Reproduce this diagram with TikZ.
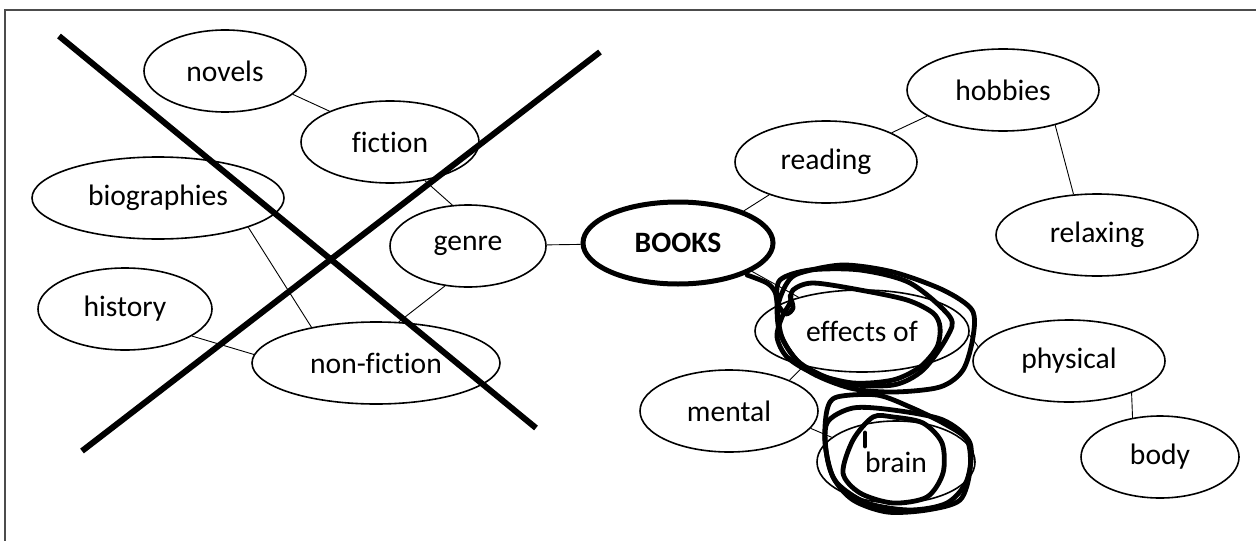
\documentclass[tikz,border=0pt]{standalone}
\usepackage{fontspec}
\setmainfont{Carlito}[Ligatures=CommonOff]
\usetikzlibrary{shapes.geometric}

\begin{document}
\begin{tikzpicture}[x=0.5pt,y=-0.5pt,
  bubble/.style={draw,ellipse,line width=0.8pt,inner sep=0pt,minimum height=41pt,
    font=\fontsize{14.8}{17}\selectfont},
  link/.style={line width=0.45pt},
  cross/.style={line width=3pt},
  scribble/.style={line width=2.4pt,line join=round,line cap=round}]
  \useasboundingbox (0,0) rectangle (1256,540);
  \draw[line width=1pt,black!70] (5,560) -- (5,10) -- (1270,10);

  \node[bubble,minimum width=81pt] (novels) at (225,71) {novels};
  \node[bubble,minimum width=89pt] (fiction) at (390,142) {fiction};
  \node[bubble,minimum width=126pt] (bio) at (158,198) {biographies};
  \node[bubble,minimum width=78pt] (genre) at (468,246) {genre};
  \node[bubble,minimum width=87pt] (history) at (125,309) {history};
  \node[bubble,minimum width=124pt] (nonfic) at (376,363) {non-fiction};
  \node[bubble,line width=2.5pt,minimum width=95pt,minimum height=41pt,
    font=\fontsize{14.8}{17}\selectfont\bfseries] (books) at (678,243) {BOOKS};

  \node[bubble,minimum width=91pt] (reading) at (826,162) {reading};
  \node[bubble,minimum width=96pt] (hobbies) at (1003,90) {hobbies};
  \node[bubble,minimum width=101pt] (relax) at (1097,235) {relaxing};
  \node[bubble,minimum width=107pt] (effects) at (862,331) {effects of};
  \node[bubble,minimum width=96pt] (phys) at (1069,361) {physical};
  \node[bubble,minimum width=89pt] (mental) at (729,411) {mental};
  \node[bubble,minimum width=79pt] (brain) at (896,462) {brain};
  \node[bubble,minimum width=79pt] (body) at (1160,457) {body};

  \draw[link] (novels.-19) -- (fiction.153);
  \draw[link] (fiction.-48) -- (genre.111);
  \draw[link] (bio.-18) -- (nonfic.151);
  \draw[link] (genre.-120) -- (nonfic.61);
  \draw[link] (history.-22) -- (nonfic.176);
  \draw[link] (genre) -- (books);
  \draw[link] (books.26) -- (reading.-150);
  \draw[link] (reading.24) -- (hobbies.-161);
  \draw[link] (hobbies.-34) -- (relax.120);
  \draw[link] (books.-21) -- (effects.152);
  \draw[link] (effects.-2) -- (phys.171);
  \draw[link] (effects.-149) -- (mental.27);
  \draw[link] (mental.-12) -- (brain.159);
  \draw[link] (phys.-27) -- (body.125);

  \draw[cross] (59,36) -- (536,428);
  \draw[cross] (82,451) -- (600,52);

  \draw[scribble] plot[smooth] coordinates {(747,275) (767,283) (775,292)
    (778,305) (786,314) (793,308) (790,296)};
  \draw[scribble] plot[smooth cycle] coordinates {(782,317) (777,337) (787,357)
    (813,373) (853,383) (893,380) (920,367) (937,347) (940,327) (933,313)
    (907,300) (860,290) (813,283) (793,290) (790,303)};
  \draw[scribble] plot[smooth cycle] coordinates {(780,280) (810,270) (860,270)
    (910,283) (950,317) (947,337) (923,370) (893,385) (843,383) (800,363)
    (780,333) (777,303)};
  \draw[scribble] plot[smooth cycle] coordinates {(800,273) (843,265) (893,272)
    (943,290) (972,310) (973,337) (963,370) (940,387) (893,392) (850,388)
    (807,370) (783,340) (778,307) (787,283)};

  \draw[scribble] plot[smooth cycle] coordinates {(837,397) (877,395) (910,407)
    (943,423) (967,440) (970,470) (960,500) (927,510) (887,512) (853,500)
    (833,477) (825,443) (827,410)};
  \draw[scribble] plot[smooth cycle] coordinates {(827,423) (853,408) (893,410)
    (943,420) (970,443) (967,480) (947,503) (910,510) (867,503) (837,483)
    (827,457)};
  \draw[scribble] plot[smooth cycle] coordinates {(873,417) (853,440) (843,473)
    (860,493) (893,503) (927,497) (943,473) (942,443) (923,423) (893,417)};
  \draw[scribble] (865,433) -- (865,446);
\end{tikzpicture}
\end{document}
